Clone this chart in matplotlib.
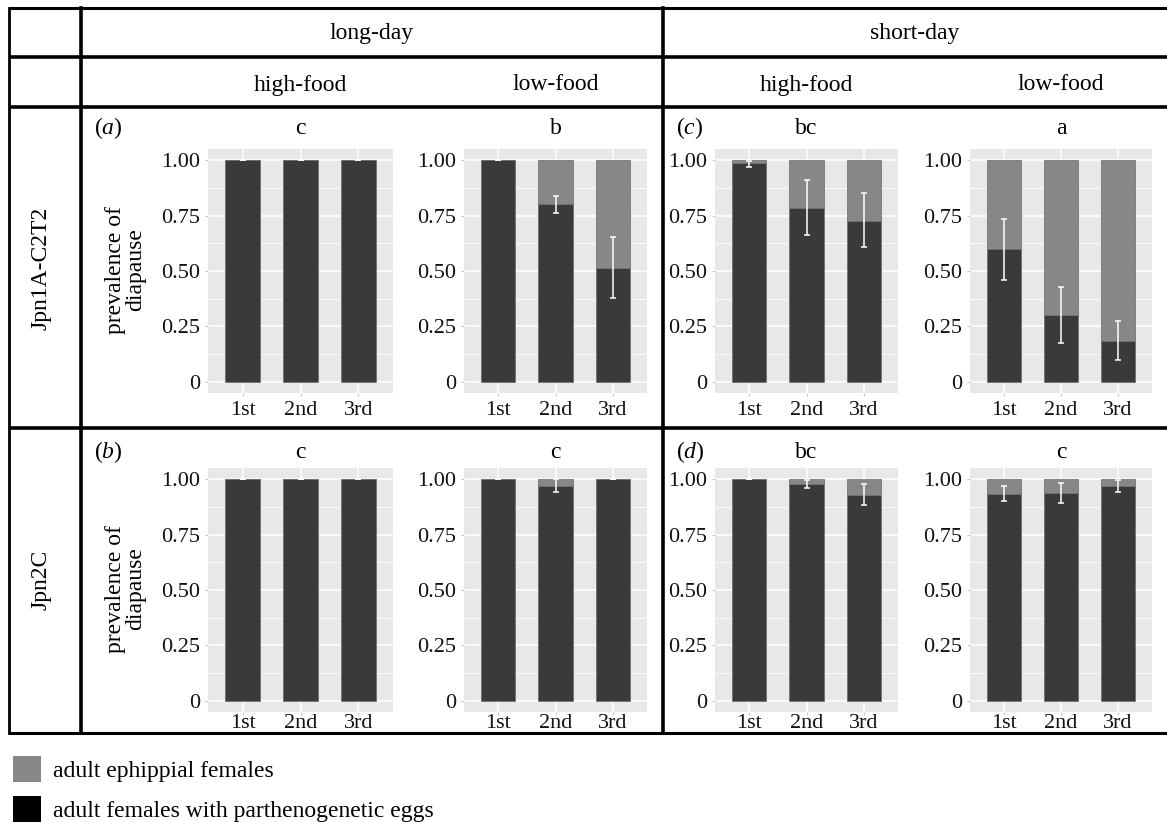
import matplotlib
matplotlib.use("Agg")
import matplotlib.pyplot as plt
from matplotlib.patches import Patch
import numpy as np

plt.rcParams['font.family'] = ['Liberation Serif', 'DejaVu Serif']
plt.rcParams['mathtext.fontset'] = 'custom'
plt.rcParams['mathtext.rm'] = 'Liberation Serif'
plt.rcParams['mathtext.it'] = 'Liberation Serif:italic'

# data: dark part of each bar (parthenogenetic),
# error bar low / high ends, one list per panel
orders = ["1st", "2nd", "3rd"]
photoperiods = ["long-day", "short-day"]
foods = ["high-food", "low-food", "high-food", "low-food"]
strains = ["Jpn1A-C2T2", "Jpn2C"]

jpn1a_dark = [[1.00, 1.00, 1.00],
              [1.00, 0.80, 0.515],
              [0.985, 0.786, 0.726],
              [0.597, 0.300, 0.183]]
jpn1a_lo = [[1.00, 1.00, 1.00],
            [1.00, 0.760, 0.379],
            [0.969, 0.661, 0.606],
            [0.460, 0.175, 0.099]]
jpn1a_hi = [[1.00, 1.00, 1.00],
            [1.00, 0.838, 0.655],
            [0.995, 0.912, 0.852],
            [0.735, 0.426, 0.273]]
jpn1a_letters = ["c", "b", "bc", "a"]

jpn2c_dark = [[1.00, 1.00, 1.00],
              [1.00, 0.967, 1.00],
              [1.00, 0.977, 0.928],
              [0.932, 0.937, 0.967]]
jpn2c_lo = [[1.00, 1.00, 1.00],
            [1.00, 0.943, 1.00],
            [1.00, 0.962, 0.881],
            [0.902, 0.893, 0.943]]
jpn2c_hi = [[1.00, 1.00, 1.00],
            [1.00, 1.00, 1.00],
            [1.00, 0.995, 0.980],
            [0.967, 0.982, 0.995]]
jpn2c_letters = ["c", "c", "bc", "c"]

legend_labels = ["adult ephippial females", "adult females with parthenogenetic eggs"]

DARK = '#3a3a3a'
LIGHT = '#878787'
PANEL_BG = '#e8e8e8'

W, H = 1167, 822
fig = plt.figure(figsize=(W / 100, H / 100), dpi=100)

# full-figure frame in pixel coordinates for the table lines and texts
frame = fig.add_axes([0, 0, 1, 1], zorder=0)
frame.set_xlim(0, W)
frame.set_ylim(H, 0)
frame.axis('off')

lw_in = 2.6
for yy in [57, 107, 428]:
    frame.plot([9, W], [yy, yy], color='black', lw=lw_in, solid_capstyle='butt')
for yy in [8, 733]:
    frame.plot([9, W], [yy, yy], color='black', lw=2.2, solid_capstyle='butt')
frame.plot([9, 9], [8, 733], color='black', lw=2.0)
frame.plot([81, 81], [8, 733], color='black', lw=lw_in)
frame.plot([663, 663], [8, 733], color='black', lw=lw_in)

col_x = [(208, 393), (464, 647), (715, 898), (970, 1152)]
row_y = [(149, 393), (468, 712)]
head_fs = 17

frame.text(372, 33, photoperiods[0], ha='center', va='center', fontsize=head_fs)
frame.text(915, 33, photoperiods[1], ha='center', va='center', fontsize=head_fs)
for (x0, x1), food in zip(col_x, foods):
    frame.text((x0 + x1) / 2, 85, food, ha='center', va='center', fontsize=head_fs)

frame.text(41, 268, strains[0], rotation=90, ha='center', va='center', fontsize=head_fs)
frame.text(41, 580, strains[1], rotation=90, ha='center', va='center', fontsize=head_fs)


def draw_panel(ax, dark, lo, hi, xpad):
    x = np.arange(1, len(orders) + 1)
    dark = np.array(dark)
    light = 1 - dark
    ax.bar(x, dark, width=0.6, color=DARK, edgecolor='#6a6a6a', lw=0.5, zorder=2)
    ax.bar(x, light, bottom=dark, width=0.6, color=LIGHT, edgecolor='#6a6a6a', lw=0.5, zorder=2)
    yerr = [dark - np.array(lo), np.array(hi) - dark]
    ax.errorbar(x, dark, yerr=yerr, fmt='none', ecolor='white', elinewidth=1.1,
                capsize=2.3, capthick=1.1, zorder=3)
    ax.set_facecolor(PANEL_BG)
    ax.set_xlim(0.4, 3.6)
    ax.set_ylim(-0.05, 1.05)
    ax.set_xticks(x)
    ax.set_xticklabels(orders)
    ax.set_yticks([0, 0.25, 0.5, 0.75, 1.0])
    ax.set_yticklabels(["0", "0.25", "0.50", "0.75", "1.00"])
    ax.set_yticks([0.125, 0.375, 0.625, 0.875], minor=True)
    ax.grid(True, which='major', color='white', lw=1.1)
    ax.grid(True, which='minor', axis='y', color='white', lw=0.55)
    ax.set_axisbelow(True)
    for s in ax.spines.values():
        s.set_visible(False)
    ax.tick_params(axis='both', which='major', labelsize=16, length=2, color='#c8c8c8',
                   labelcolor='#111111')
    ax.tick_params(axis='x', pad=xpad)
    ax.tick_params(axis='y', pad=3.5)
    ax.tick_params(which='minor', length=0)


rows = [(jpn1a_dark, jpn1a_lo, jpn1a_hi, jpn1a_letters),
        (jpn2c_dark, jpn2c_lo, jpn2c_hi, jpn2c_letters)]
tag_y = [128, 452]
xpads = [3.4, -0.4]

for r, (darks, los, his, letters) in enumerate(rows):
    y0, y1 = row_y[r]
    for c in range(4):
        x0, x1 = col_x[c]
        ax = fig.add_axes([x0 / W, 1 - y1 / H, (x1 - x0) / W, (y1 - y0) / H], zorder=1)
        draw_panel(ax, darks[c], los[c], his[c], xpads[r])
        frame.text((x0 + x1) / 2, tag_y[r], letters[c], ha='center', va='center', fontsize=17)
    frame.text(126, (y0 + y1) / 2 - 1, "prevalence of\ndiapause", rotation=90, ha='center',
               va='center', fontsize=17, linespacing=0.95, multialignment='center')

# panel tags (a)-(d)
frame.text(108, tag_y[0], r'($\mathit{a}$)', ha='center', va='center', fontsize=17)
frame.text(108, tag_y[1], r'($\mathit{b}$)', ha='center', va='center', fontsize=17)
frame.text(690, tag_y[0], r'($\mathit{c}$)', ha='center', va='center', fontsize=17)
frame.text(690, tag_y[1], r'($\mathit{d}$)', ha='center', va='center', fontsize=17)

handles = [Patch(facecolor=LIGHT, edgecolor='none'), Patch(facecolor='black', edgecolor='none')]
fig.legend(handles, legend_labels, loc='upper left', bbox_to_anchor=(13 / W, 1 - 756 / H),
           frameon=False, fontsize=17, handlelength=1.2, handleheight=1.3,
           handletextpad=0.5, labelspacing=0.62, borderpad=0, borderaxespad=0)

fig.savefig("out.png", dpi=100)
